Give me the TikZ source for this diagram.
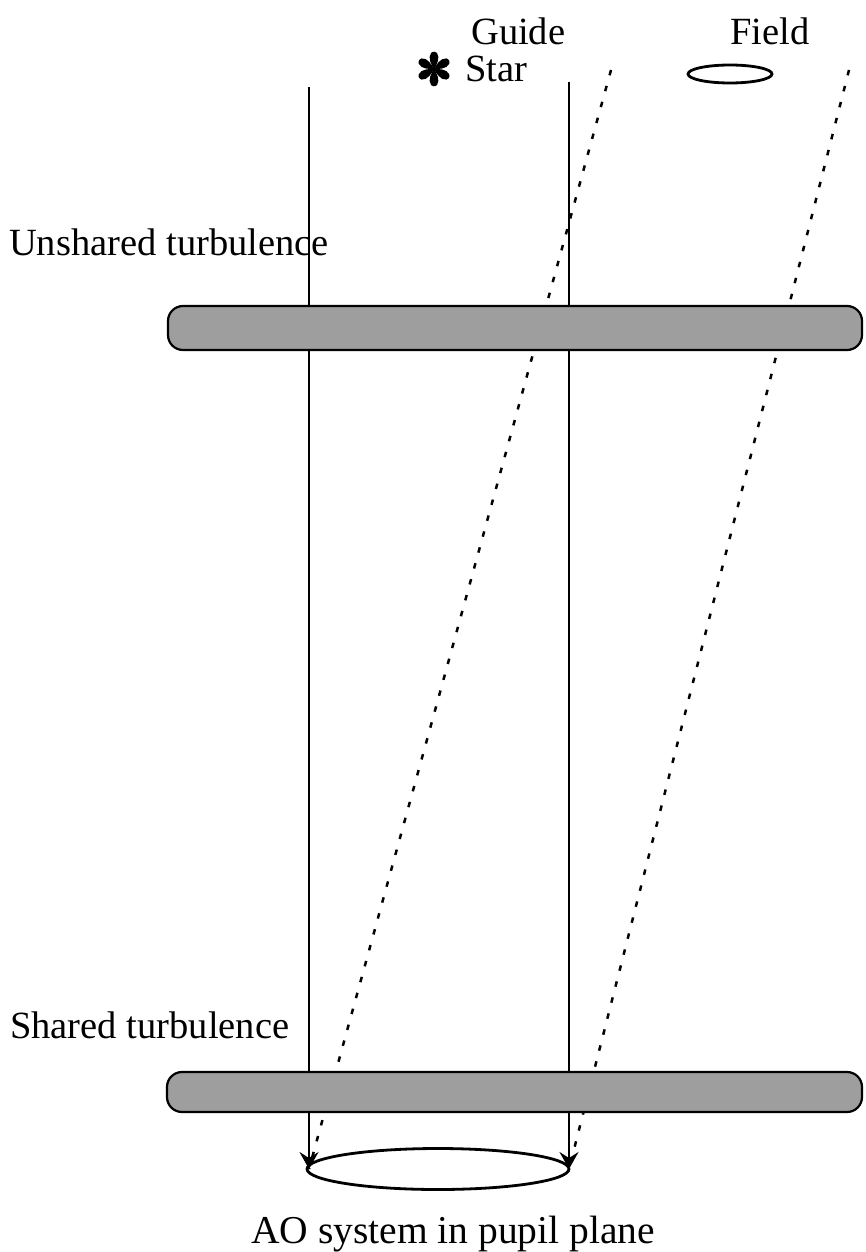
\documentclass[tikz,border=0pt]{standalone}
\usepackage{fontspec}
\setmainfont{Liberation Serif}
\usetikzlibrary{arrows.meta,shapes.geometric}
\begin{document}
\begin{tikzpicture}[x=1pt,y=-1pt,
  lbl/.style={inner sep=0pt,anchor=base west,font=\fontsize{38.5}{40}\selectfont},
  ray/.style={line width=2.2pt},
  offray/.style={line width=2.5pt,dash pattern=on 5.5pt off 11pt},
  band/.style={draw=black,line width=2.2pt,fill=black!38,rounded corners=15pt},
  tip/.style={-{Stealth[length=17pt,width=19pt,inset=6pt]}}]
\useasboundingbox (0,0) rectangle (865,1252);
% texts
\node[lbl] (guide) at (471,45) {Guide};
\node[lbl] (star) at (465,82) {Star};
\node[lbl] (field) at (730,45) {Field};
\node[lbl] (unshared) at (9,255) {Unshared turbulence};
\node[lbl] (shared) at (10,1038) {Shared turbulence};
\node[inner sep=0pt,anchor=base,font=\fontsize{39.5}{41}\selectfont] (ao) at (453,1243) {AO system in pupil plane};
% star symbol
\begin{scope}[shift={(434,69)}]
\foreach \a in {30,90,150,210,270,330}
  \fill[rotate=\a] (0,0) .. controls (4,2.5) and (11,6.5) .. (16,3) .. controls (19,0) and (16,-3) .. (16,-3) .. controls (11,-6.5) and (4,-2.5) .. (0,0);
\fill (0,0) circle (3pt);
\end{scope}
% field ellipse
\node[draw,line width=2.8pt,ellipse,minimum width=84pt,minimum height=18pt,inner sep=0pt] (fieldobj) at (730,74) {};
% coordinates
\coordinate (lt) at (309,87);
\coordinate (rt) at (569,82);
\coordinate (lb) at (309,1169);
\coordinate (rb) at (569,1169);
\coordinate (dlt) at (611,70);
\coordinate (drt) at (849,70);
% rays
\draw[ray,tip] (lt) -- (lb);
\draw[ray,tip] (rt) -- (rb);
\draw[offray] (dlt) -- (lb);
\draw[offray] (drt) -- (rb);
% bands
\draw[band] (168,306) rectangle (862,350);
\draw[band] (167,1072) rectangle (862,1112);
% pupil ellipse
\node[draw,line width=2.8pt,ellipse,minimum width=262pt,minimum height=41pt,inner sep=0pt] (pupil) at (438,1169) {};
\end{tikzpicture}
\end{document}
